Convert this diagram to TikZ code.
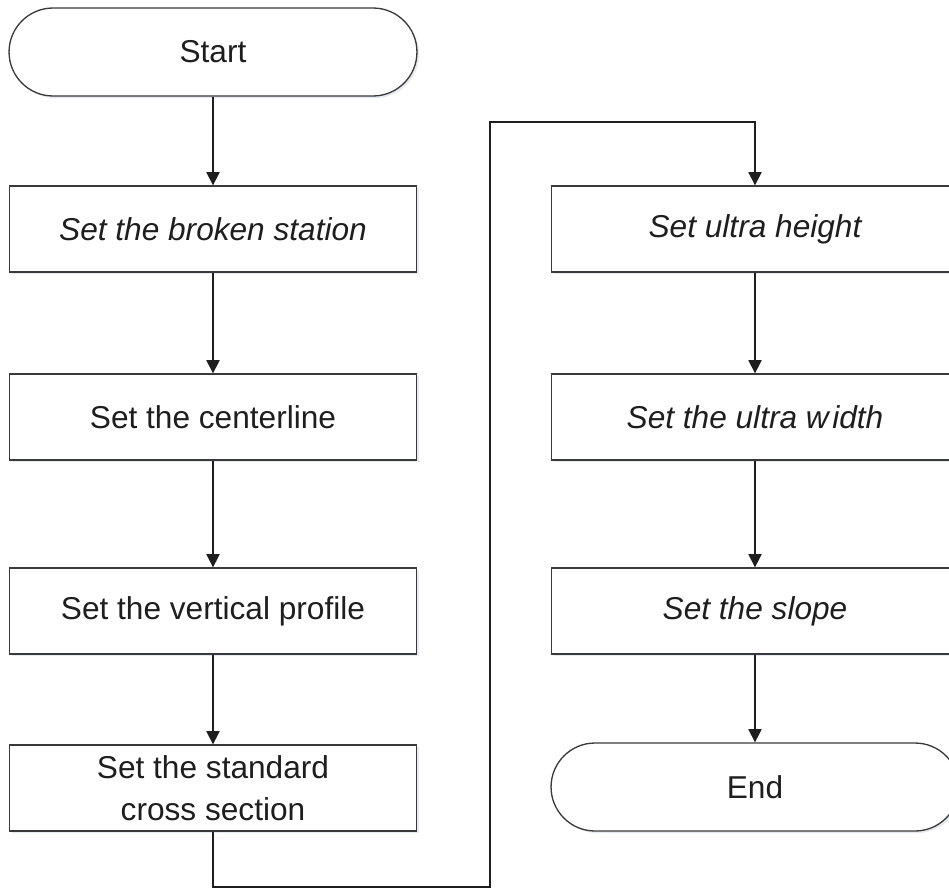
\documentclass[tikz,border=0pt]{standalone}
\usepackage{fontspec}
\setmainfont{Liberation Sans}
\usepackage{xcolor}
\usepackage{tikz}
\usetikzlibrary{arrows.meta,shapes.misc,shadows}

\definecolor{edgegray}{HTML}{3A3A3A}
\definecolor{inkgray}{HTML}{1E1E1E}
\definecolor{shadegray}{HTML}{B8C2D6}

\tikzset{
  stepbox/.style={draw=edgegray, line width=0.75pt, fill=white, rectangle,
    minimum width=8.14cm, minimum height=1.72cm, inner sep=0pt, text=inkgray,
    font=\fontsize{18}{24}\selectfont, align=center,
    drop shadow={shadow xshift=1.2pt, shadow yshift=-1.2pt, fill=shadegray, opacity=0.35}},
  termbox/.style={stepbox, rounded rectangle, rounded rectangle arc length=180,
    minimum width=8.16cm, minimum height=1.76cm},
  flow/.style={draw=inkgray, line width=0.75pt, -{Triangle[length=7.5pt,width=7.5pt]}},
}

\begin{document}
\begin{tikzpicture}[x=0.02cm, y=-0.02cm]
\useasboundingbox (0,0) rectangle (949,889);

% ========= left column =========
% axis x=213
\node[termbox] (start) at (213,52) {Start};
\node[stepbox] (broken) at (213,229) {\itshape Set the broken station};
\node[stepbox] (center) at (213,417) {Set the centerline};
\node[stepbox] (vprof) at (213,611) {Set the vertical profile};
\node[stepbox] (cross) at (213,788) {Set the standard\\cross section};
\draw[flow] (start.south) -- (broken.north);
\draw[flow] (broken.south) -- (center.north);
\draw[flow] (center.south) -- (vprof.north);
\draw[flow] (vprof.south) -- (cross.north);

% ========= right column =========
% axis x=755
\node[stepbox] (height) at (755,229) {\itshape Set ultra height};
\node[stepbox] (width) at (755,417) {\itshape Set the ultra w\kern2pt idth};
\node[stepbox] (slope) at (755,611) {\itshape Set the slope};
\node[termbox] (end) at (755,787) {End};
\draw[flow] (height.south) -- (width.north);
\draw[flow] (width.south) -- (slope.north);
\draw[flow] (slope.south) -- (end.north);

% ========= link between columns =========
\coordinate (lowturn) at (490,887);
\coordinate (highturn) at (490,122);
\draw[flow] (cross.south) |- (lowturn) -- (highturn) -| (height.north);
\end{tikzpicture}
\end{document}
